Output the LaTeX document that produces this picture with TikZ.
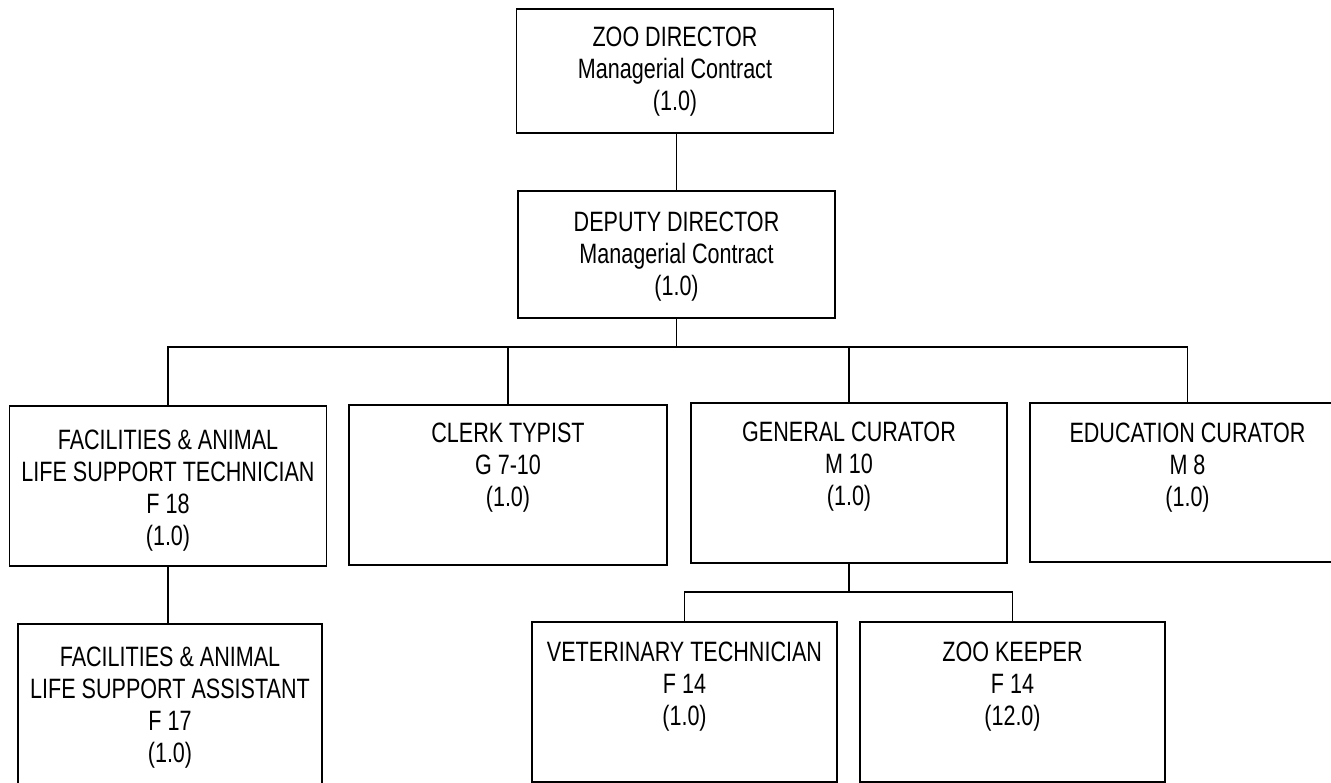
\documentclass[tikz,border=0pt]{standalone}
\usepackage{fontspec}
\setmainfont{Liberation Sans}[FakeStretch=0.77]
\begin{document}
\begin{tikzpicture}[x=1pt,y=-1pt,
  box/.style={draw=black, line width=1.6pt, fill=white, inner sep=0pt, outer sep=0pt},
  lbl/.style={anchor=north, align=center, inner sep=0pt, font=\fontsize{28}{32}\selectfont},
  conn/.style={draw=black, line width=1.6pt}]
\useasboundingbox (0,0) rectangle (1331,783);
\begin{scope}
\clip (0,0) rectangle (1331,783);
% boxes
\node[box, minimum width=317pt, minimum height=124pt] (zoo) at (675,71) {};
\node[box, minimum width=317pt, minimum height=127pt] (dep) at (676.5,254.5) {};
\node[box, minimum width=317pt, minimum height=160pt] (fac) at (168,486) {};
\node[box, minimum width=318pt, minimum height=160pt] (clerk) at (508,485) {};
\node[box, minimum width=316pt, minimum height=160pt] (gen) at (849,483) {};
\node[box, minimum width=315pt, minimum height=159pt] (edu) at (1187.5,482.5) {};
\node[box, minimum width=305pt, minimum height=160pt] (vet) at (684.5,702) {};
\node[box, minimum width=305pt, minimum height=160pt] (keep) at (1012.5,702) {};
\node[box, minimum width=304pt, minimum height=164pt] (asst) at (170,706) {};
% labels
\node[lbl] (zooT) at ([yshift=-18pt]zoo.north) {ZOO DIRECTOR\\Managerial Contract\\(1.0)};
\node[lbl] (depT) at ([yshift=-21pt]dep.north) {DEPUTY DIRECTOR\\Managerial Contract\\(1.0)};
\node[lbl] (facT) at ([yshift=-24pt]fac.north) {FACILITIES \& ANIMAL\\LIFE SUPPORT TECHNICIAN\\F 18\\(1.0)};
\node[lbl] (clerkT) at ([yshift=-18pt]clerk.north) {CLERK TYPIST\\G 7-10\\(1.0)};
\node[lbl] (genT) at ([yshift=-19pt]gen.north) {GENERAL CURATOR\\M 10\\(1.0)};
\node[lbl] (eduT) at ([yshift=-20pt]edu.north) {EDUCATION CURATOR\\M 8\\(1.0)};
\node[lbl] (vetT) at ([yshift=-20pt]vet.north) {VETERINARY TECHNICIAN\\F 14\\(1.0)};
\node[lbl] (keepT) at ([yshift=-20pt]keep.north) {ZOO KEEPER\\F 14\\(12.0)};
\node[lbl] (asstT) at ([yshift=-23pt]asst.north) {FACILITIES \& ANIMAL\\LIFE SUPPORT ASSISTANT\\F 17\\(1.0)};
% connectors
\coordinate (bus) at (676.5,347);
\coordinate (sub) at (849,592);
\draw[conn] (dep.north |- zoo.south) -- (dep.north);
\draw[conn] (dep.south) -- (bus);
\draw[conn] (fac.north) -- (fac.north |- bus) -- (edu.north |- bus) -- (edu.north);
\draw[conn] (clerk.north) -- (clerk.north |- bus);
\draw[conn] (gen.north) -- (gen.north |- bus);
\draw[conn] (fac.south) -- (fac.south |- asst.north);
\draw[conn] (gen.south) -- (sub);
\draw[conn] (vet.north) -- (vet.north |- sub) -- (keep.north |- sub) -- (keep.north);
\end{scope}
\end{tikzpicture}
\end{document}
